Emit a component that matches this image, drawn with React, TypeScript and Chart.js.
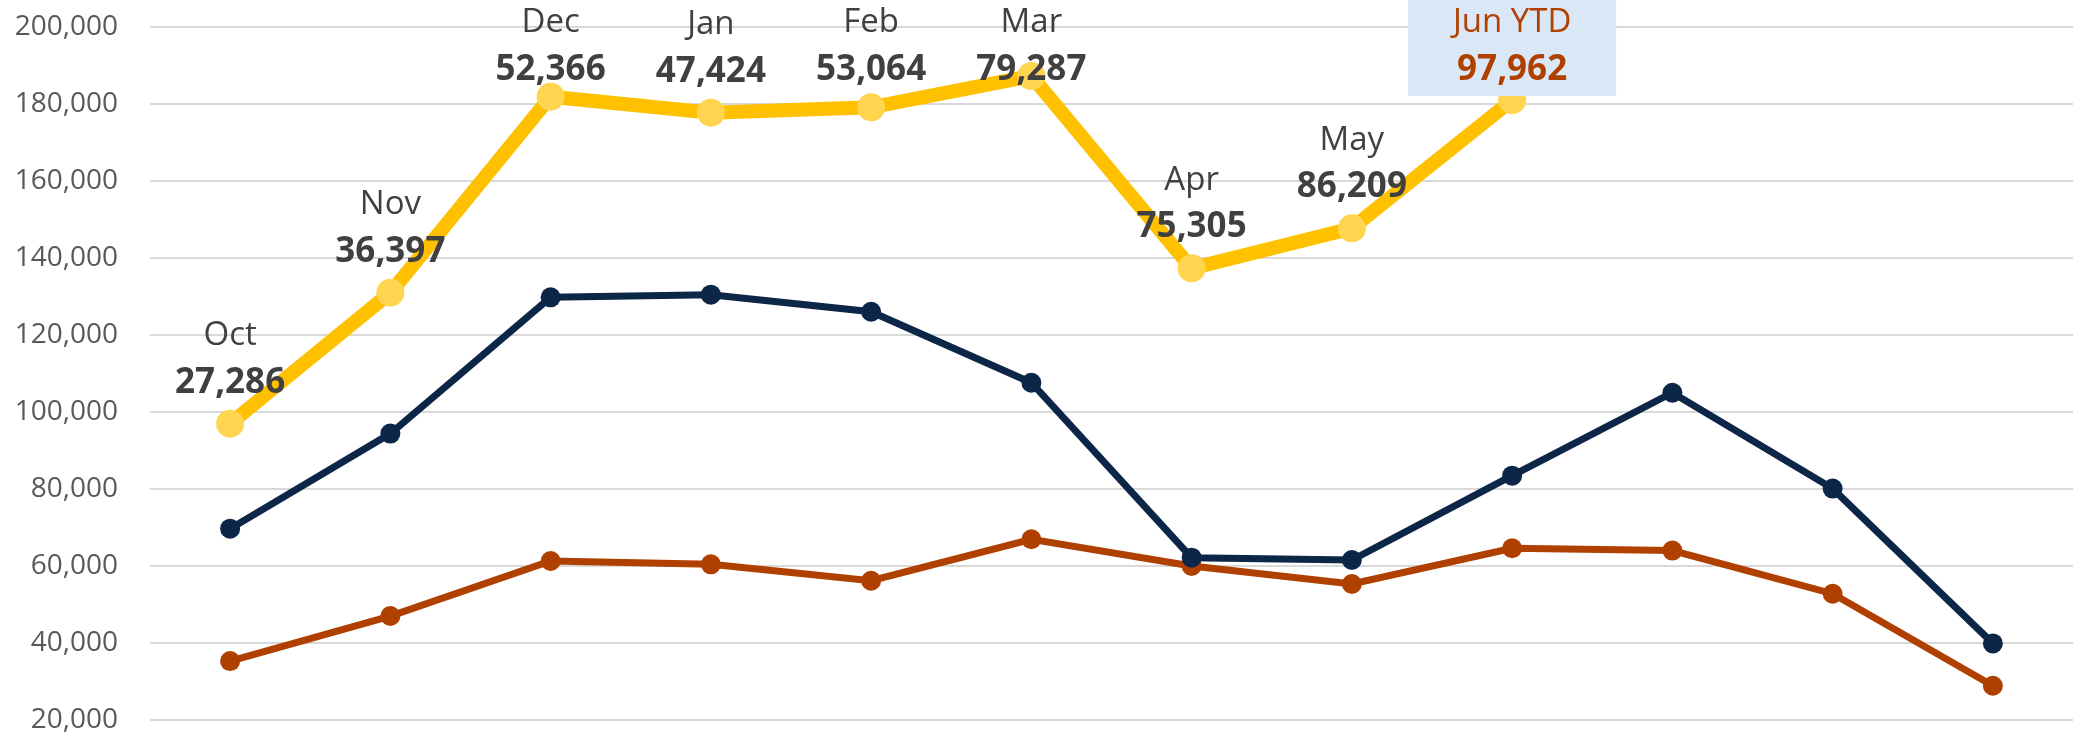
import React, { useEffect, useRef } from "react";
import { Chart, registerables } from "chart.js";

Chart.register(...registerables);

const categories = ["Oct", "Nov", "Dec", "Jan", "Feb", "Mar", "Apr", "May", "Jun", "Jul", "Aug", "Sep"];
const currentYear = [96960, 130990, 181900, 177740, 179140, 187270, 137320, 147710, 181000];
const priorYear = [69700, 94400, 129790, 130470, 126050, 107610, 62160, 61560, 83460, 105000, 80100, 39900];
const lowerSeries = [35300, 47000, 61300, 60440, 56180, 66940, 60000, 55320, 64600, 64000, 52800, 28900];
const pointNames = ["Oct", "Nov", "Dec", "Jan", "Feb", "Mar", "Apr", "May", "Jun YTD"];
const pointValues = ["27,286", "36,397", "52,366", "47,424", "53,064", "79,287", "75,305", "86,209", "97,962"];
const yMin = 20000;
const yMax = 200000;
const yStep = 20000;

const FONT = "'Open Sans', 'Noto Sans', sans-serif";

const labelPlugin = {
  id: "monthLabels",
  afterDatasetsDraw(chart: any) {
    const ctx = chart.ctx;
    const meta = chart.getDatasetMeta(0);
    ctx.save();
    ctx.textAlign = "center";
    ctx.textBaseline = "middle";
    meta.data.forEach((pt: any, i: number) => {
      const x = pt.x;
      const valueY = Math.max(pt.y - 41, 70);
      const nameY = valueY - 47;
      const last = i === pointNames.length - 1;
      if (last) {
        ctx.fillStyle = "#DAE7F7";
        ctx.fillRect(x - 104, 0, 208, 96);
      }
      ctx.fillStyle = last ? "#B04000" : "#404040";
      ctx.font = `400 33px ${FONT}`;
      ctx.fillText(pointNames[i], x, nameY);
      ctx.font = `700 35px ${FONT}`;
      ctx.fillText(pointValues[i], x, valueY);
    });
    ctx.restore();
  },
};

export default function App() {
  const ref = useRef<HTMLCanvasElement>(null);
  useEffect(() => {
    if (!ref.current) return;
    const chart = new Chart(ref.current, {
      type: "line",
      data: {
        labels: categories,
        datasets: [
          {
            data: currentYear,
            borderColor: "#FFC000",
            borderWidth: 14,
            pointRadius: 14,
            pointBackgroundColor: "#FFD54F",
            pointBorderWidth: 0,
            pointHoverRadius: 14,
            order: 1,
          },
          {
            data: priorYear,
            borderColor: "#0C2647",
            borderWidth: 7,
            pointRadius: 10,
            pointBackgroundColor: "#0C2647",
            pointBorderWidth: 0,
            order: 2,
          },
          {
            data: lowerSeries,
            borderColor: "#B04000",
            borderWidth: 7,
            pointRadius: 10,
            pointBackgroundColor: "#B04000",
            pointBorderWidth: 0,
            order: 3,
          },
        ],
      },
      options: {
        responsive: false,
        animation: false,
        layout: { padding: { top: 27, bottom: 18, right: 10, left: 0 } },
        plugins: { legend: { display: false }, tooltip: { enabled: false } },
        scales: {
          x: { display: false, offset: true, grid: { display: false } },
          y: {
            min: yMin,
            max: yMax,
            border: { display: false },
            grid: { color: "#D9D9D9", lineWidth: 2, drawTicks: false },
            afterFit(scale: any) {
              scale.width = 150;
              scale.paddingTop = 0;
              scale.paddingBottom = 0;
            },
            ticks: {
              stepSize: yStep,
              padding: 32,
              color: "#595959",
              font: { family: FONT, size: 28 },
              callback: (v: any) => Number(v).toLocaleString("en-US"),
            },
          },
        },
      },
      plugins: [labelPlugin],
    });
    return () => chart.destroy();
  }, []);
  return (
    <div style={{ position: "fixed", left: 0, top: 0, width: 2087, height: 738, background: "#fff" }}>
      <canvas ref={ref} width={2087} height={738} style={{ display: "block" }} />
    </div>
  );
}
